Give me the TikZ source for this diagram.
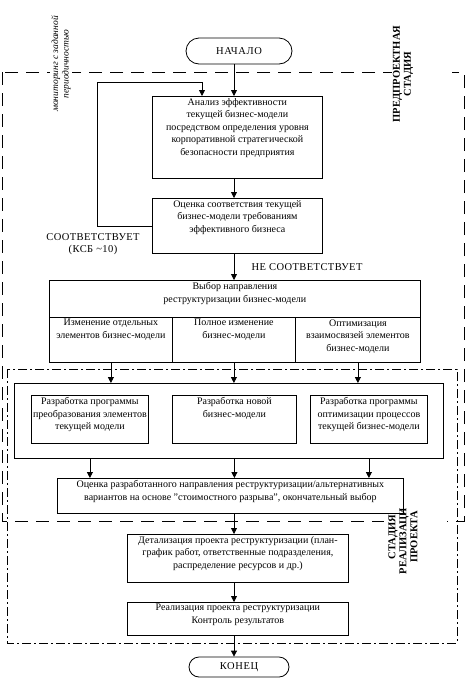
\documentclass[tikz,border=0pt]{standalone}
\usepackage{fontspec}
\setmainfont{Liberation Serif}
\usetikzlibrary{arrows.meta,shapes.misc}
\tikzset{
  blk/.style={draw, rectangle, line width=0.8pt, inner xsep=1pt, inner ysep=2pt, anchor=north west, font=\fontsize{10}{12.5}\selectfont},
  term/.style={draw, rounded rectangle, line width=0.8pt, inner sep=1pt, font=\fontsize{10.5}{12}\selectfont\addfontfeature{LetterSpace=6}},
  caps/.style={align=center, font=\fontsize{10.5}{12}\selectfont\addfontfeature{LetterSpace=4}},
  arr/.style={-{Triangle[width=6pt,length=6pt]}, line width=0.8pt},
  stage/.style={rotate=90, fill=white, align=center, inner sep=1pt, font=\bfseries\fontsize{10.5}{11}\selectfont},
  prestage/.style={line width=0.8pt, dash pattern=on 13pt off 8pt},
  implstage/.style={line width=0.8pt, dash pattern=on 9pt off 3pt on 2pt off 3pt},
}
\newcommand{\boxtext}[3]{\parbox[t][#2pt][t]{#1pt}{\centering #3}}
\begin{document}
\begin{tikzpicture}[x=1pt, y=-1pt]
  \useasboundingbox (0,0) rectangle (466,678);

  % stages
  \draw[prestage] (2,72) rectangle (464,521);
  \draw[implstage] (7,369) rectangle (457,643);
  \fill[white] (392,68) rectangle (452,76);
  \fill[white] (384,517) rectangle (447,525);
  \node[stage] (pre) at (403,74) {ПРЕДПРОЕКТНАЯ\\СТАДИЯ};
  \begin{scope}
    \clip (380,508) rectangle (430,600);
    \node[stage] (impl) at (403,537) {СТАДИЯ\\РЕАЛИЗАЦИИ\\ПРОЕКТА};
  \end{scope}
  \node[rotate=90, fill=white, align=center, inner sep=1pt, font=\itshape\fontsize{9.5}{10.5}\selectfont] (monit) at (61,64) {мониторинг с заданной\\периодичностью};

  % flow
  \node[term, minimum width=108pt, minimum height=26pt] (nachalo) at (239,51) {НАЧАЛО};
  \node[blk, minimum width=170pt] (analiz) at (152,96) {\boxtext{166}{78}{Анализ эффективности\\текущей бизнес-модели\\посредством определения уровня\\корпоративной стратегической\\безопасности предприятия}};
  \node[blk, minimum width=170pt] (sootv) at (152,198) {\boxtext{166}{51}{Оценка соответствия текущей\\бизнес-модели требованиям\\эффективного бизнеса}};
  \node[caps] (sootvlbl) at (93,244) {СООТВЕТСТВУЕТ\\(КСБ \textasciitilde10)};

  \node[blk, minimum width=371pt] (vybor) at (49,280) {\boxtext{367}{33}{Выбор направления\\реструктуризации бизнес-модели}};
  \node[blk, minimum width=123pt] (c1) at (49,317) {\boxtext{121}{41}{Изменение отдельных\\элементов бизнес-модели}};
  \node[blk, minimum width=123pt] (c2) at (172,317) {\boxtext{121}{41}{Полное изменение\\бизнес-модели}};
  \node[blk, minimum width=125pt] (c3) at (295,317) {\boxtext{123}{41}{Оптимизация\\взаимосвязей элементов\\бизнес-модели}};

  \node[blk, minimum width=429pt, minimum height=75pt] (cont) at (14,383) {};
  \node[blk, minimum width=117pt] (ra) at (31,395) {\boxtext{115}{44}{Разработка программы\\преобразования элементов\\текущей модели}};
  \node[blk, minimum width=124pt] (rb) at (172,395) {\boxtext{122}{44}{Разработка новой\\бизнес-модели}};
  \node[blk, minimum width=117pt] (rc) at (310,395) {\boxtext{115}{44}{Разработка программы\\оптимизации процессов\\текущей бизнес-модели}};

  \node[blk, minimum width=346pt] (ocenka) at (57,478) {\boxtext{342}{31}{Оценка разработанного направления реструктуризации/альтернативных\\вариантов на основе "стоимостного разрыва", окончательный выбор}};
  \node[blk, minimum width=221pt] (detal) at (127,534) {\boxtext{219}{44}{Детализация проекта реструктуризации (план-\\график работ, ответственные подразделения,\\распределение ресурсов и др.)}};
  \node[blk, minimum width=221pt] (real) at (127,602) {\boxtext{219}{29}{Реализация проекта реструктуризации\\Контроль результатов}};
  \node[term, minimum width=102pt, minimum height=20pt] (konec) at (239,667) {КОНЕЦ};

  % connectors
  \coordinate (axis) at (234,0);
  \coordinate (ret) at (97,82);
  \coordinate (retin) at (202,82);
  \draw[arr] (nachalo.south -| axis) -- (analiz.north -| axis);
  \draw[arr] (analiz.south -| axis) -- (sootv.north -| axis);
  \draw[arr] (sootv.west) -| (ret) -- (retin) -- (retin |- analiz.north);
  \draw[arr] (sootv.south -| axis) -- (vybor.north -| axis)
    node[midway, anchor=west, xshift=14pt, caps] {НЕ СООТВЕТСТВУЕТ};
  \foreach \c in {c1,c2,c3}
    \draw[arr] (\c.south) -- (cont.north -| \c.south);
  \foreach \r in {ra,rb,rc}
    \draw[arr] (cont.south -| \r.south) -- (ocenka.north -| \r.south);
  \draw[arr] (ocenka.south -| axis) -- (detal.north -| axis);
  \draw[arr] (detal.south -| axis) -- (real.north -| axis);
  \draw[arr] (real.south -| axis) -- (konec.north -| axis);
\end{tikzpicture}
\end{document}
